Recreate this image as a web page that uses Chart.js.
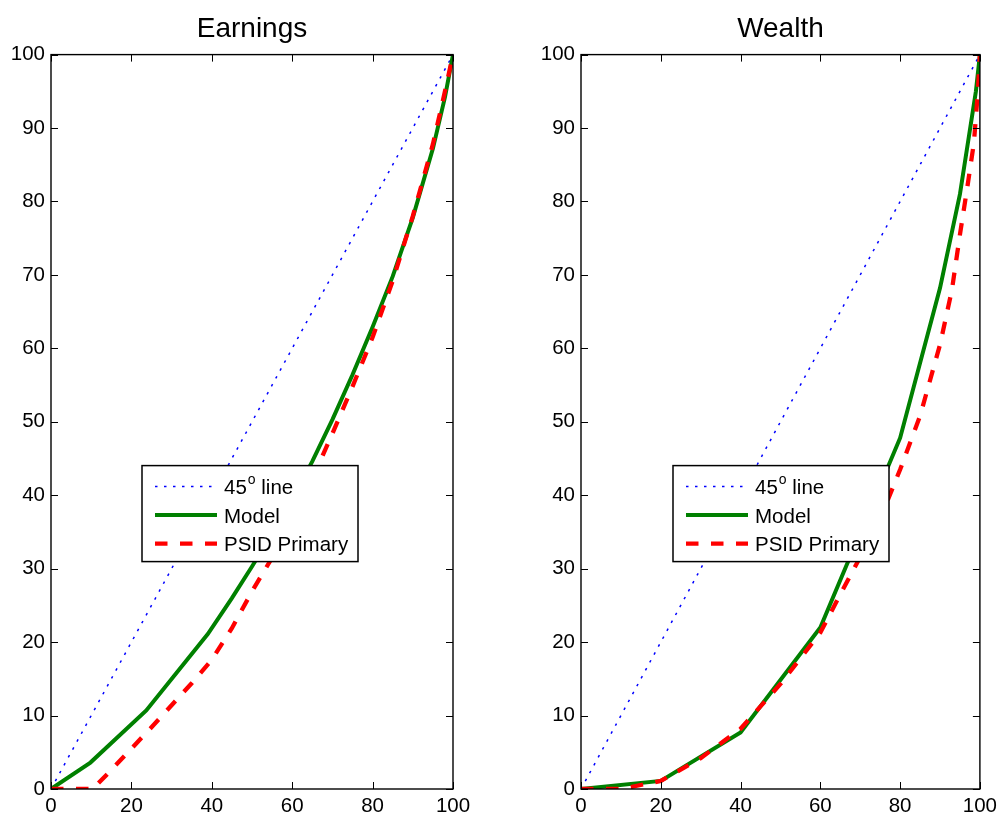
<!DOCTYPE html>
<html><head><meta charset="utf-8">
<script src="https://cdn.jsdelivr.net/npm/chart.js@4/dist/chart.umd.min.js"></script>
<style>
html,body{margin:0;padding:0;background:#fff;overflow:hidden;}
#wrap{position:relative;width:1002px;height:819px;background:#fff;}
.panel{position:absolute;top:0;height:819px;}
canvas{display:block;}
</style></head><body>
<div id="wrap">
<div class="panel" style="left:0;width:500px"><canvas id="c1" width="500" height="819"></canvas></div>
<div class="panel" style="left:500px;width:502px"><canvas id="c2" width="502" height="819"></canvas></div>
</div>
<script>
// ---- data ----
const panelTitles = ['Earnings', 'Wealth'];
const seriesLabels = ['45^o line', 'Model', 'PSID Primary'];
const xTickValues = [0, 20, 40, 60, 80, 100];
const yTickValues = [0, 10, 20, 30, 40, 50, 60, 70, 80, 90, 100];

const diagX = [0, 100];
const diagY = [0, 100];

const earnModelX = [0, 9.8, 23.7, 39, 45, 50, 55, 60, 65, 70, 75, 80, 85, 90, 95, 98, 100];
const earnModelY = [0, 3.6, 10.7, 21.1, 26, 30.3, 34.8, 39.5, 44.6, 50.3, 56.4, 62.9, 69.8, 77.8, 87.2, 94.2, 100];

const earnPsidX = [0, 10.4, 15, 20, 25, 30, 35, 40, 45, 50, 55, 60, 65, 70, 75, 80, 85, 90, 95, 98, 100];
const earnPsidY = [0, 0, 2.6, 5.5, 8.4, 11.4, 14.4, 17.6, 21.9, 26.9, 31.5, 36.6, 42.2, 48.4, 54.8, 61.5, 69.2, 78, 87.8, 95, 100];

const wealthModelX = [0, 20, 40, 60, 80, 90, 95, 99, 100];
const wealthModelY = [0, 1.1, 7.7, 22, 47.8, 68.2, 81, 95, 100];

const wealthPsidX = [0, 10, 20, 30, 40, 50, 60, 65, 70, 75, 80, 85, 90, 93, 95, 97, 98.5, 99.5, 100];
const wealthPsidY = [0, 0, 1.1, 4.2, 8.2, 14.3, 21.3, 26.5, 31.6, 36.8, 43.5, 50.8, 60.5, 68, 75.5, 82.5, 88, 95, 100];

// ---- helpers ----
const FONT = '"Liberation Sans", Arial, Helvetica, sans-serif';
const toPts = (xs, ys) => xs.map((x, i) => ({x: x, y: ys[i]}));

function makeDatasets(mX, mY, pX, pY) {
  return [
    {label: seriesLabels[0], data: toPts(diagX, diagY), borderColor: '#0000ff', borderWidth: 1.5,
     borderDash: [2.5, 6.5], order: 2},
    {label: seriesLabels[1], data: toPts(mX, mY), borderColor: '#008000', borderWidth: 4,
     borderDash: [], order: 1},
    {label: seriesLabels[2], data: toPts(pX, pY), borderColor: '#ff0000', borderWidth: 4.3,
     borderDash: [12.5, 12.5], order: 0}
  ].map(d => Object.assign(d, {showLine: true, pointRadius: 0, pointHoverRadius: 0, fill: false, tension: 0}));
}

const framePlugin = {
  id: 'frame',
  afterDatasetsDraw(chart) {
    const {ctx, chartArea: a, scales: {x, y}} = chart;
    ctx.save();
    ctx.strokeStyle = '#000';
    ctx.lineWidth = 1;
    ctx.setLineDash([]);
    ctx.beginPath();
    xTickValues.forEach(v => {
      const px = Math.round(x.getPixelForValue(v)) + 0.5;
      ctx.moveTo(px, a.bottom); ctx.lineTo(px, a.bottom - 7);
      ctx.moveTo(px, a.top); ctx.lineTo(px, a.top + 7);
    });
    yTickValues.forEach(v => {
      const py = Math.round(y.getPixelForValue(v)) + 0.5;
      ctx.moveTo(a.left, py); ctx.lineTo(a.left + 7, py);
      ctx.moveTo(a.right, py); ctx.lineTo(a.right - 7, py);
    });
    ctx.stroke();
    ctx.lineWidth = 1.4;
    ctx.strokeRect(a.left, a.top, a.right - a.left, a.bottom - a.top);
    ctx.restore();
  }
};

const legendPlugin = {
  id: 'boxLegend',
  afterDraw(chart, args, opts) {
    const {ctx, chartArea: a} = chart;
    const L = a.left + opts.dx, T = a.top + opts.dy, W = 216, H = 96;
    ctx.save();
    ctx.fillStyle = '#fff';
    ctx.fillRect(L, T, W, H);
    ctx.strokeStyle = '#000';
    ctx.lineWidth = 1.5;
    ctx.setLineDash([]);
    ctx.strokeRect(L, T, W, H);
    chart.data.datasets.forEach((ds, i) => {
      const cy = T + 21 + i * 28.5;
      ctx.save();
      ctx.strokeStyle = ds.borderColor;
      ctx.lineWidth = ds.borderWidth;
      ctx.setLineDash(ds.borderDash || []);
      ctx.lineCap = 'butt';
      ctx.beginPath();
      ctx.moveTo(L + 13, cy); ctx.lineTo(L + 75, cy);
      ctx.stroke();
      ctx.restore();
      // text with optional superscript (^c)
      ctx.fillStyle = '#000';
      ctx.textBaseline = 'middle';
      ctx.textAlign = 'left';
      let tx = L + 82;
      const ty = cy + 2;
      const parts = ds.label.split('^');
      ctx.font = '20.5px ' + FONT;
      ctx.fillText(parts[0], tx, ty);
      tx += ctx.measureText(parts[0]).width;
      if (parts.length > 1) {
        const sup = parts[1].charAt(0), rest = parts[1].slice(1);
        ctx.font = '14px ' + FONT;
        ctx.fillText(sup, tx + 1, ty - 8);
        tx += ctx.measureText(sup).width + 1;
        ctx.font = '20.5px ' + FONT;
        ctx.fillText(rest, tx, ty);
      }
    });
    ctx.restore();
  }
};

function makeChart(id, title, datasets, pad, legendDx) {
  return new Chart(document.getElementById(id), {
    type: 'scatter',
    data: {datasets: datasets},
    plugins: [framePlugin, legendPlugin],
    options: {
      responsive: false,
      animation: false,
      events: [],
      layout: {padding: pad},
      plugins: {
        legend: {display: false},
        tooltip: {enabled: false},
        title: {display: true, text: title, fullSize: false, color: '#000',
                font: {family: FONT, size: 28, weight: 'normal', lineHeight: 1.2},
                padding: {top: 12, bottom: 9}},
        boxLegend: {dx: legendDx, dy: 411}
      },
      scales: {
        x: {type: 'linear', min: 0, max: 100,
            afterFit: s => { s.height = 30; },
            grid: {display: false, drawTicks: false},
            border: {display: false},
            ticks: {stepSize: 20, padding: 5, maxRotation: 0, color: '#000',
                    font: {family: FONT, size: 20.5}}},
        y: {type: 'linear', min: 0, max: 100,
            afterFit: s => { s.width = 51; },
            grid: {display: false, drawTicks: false},
            border: {display: false},
            ticks: {stepSize: 10, padding: 6, color: '#000',
                    font: {family: FONT, size: 20.5}}}
      }
    }
  });
}

makeChart('c1', panelTitles[0], makeDatasets(earnModelX, earnModelY, earnPsidX, earnPsidY),
          {left: 0, right: 47, top: 0, bottom: 0}, 91);
makeChart('c2', panelTitles[1], makeDatasets(wealthModelX, wealthModelY, wealthPsidX, wealthPsidY),
          {left: 30, right: 20, top: 0, bottom: 0}, 92);
</script>
</body></html>
